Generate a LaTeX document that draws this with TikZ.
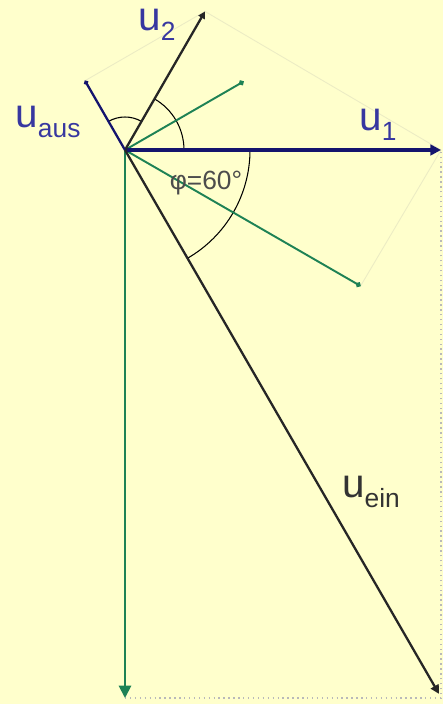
\documentclass[tikz,border=0pt]{standalone}
\usepackage{fontspec}
\setmainfont{Liberation Sans}
\definecolor{phasorBg}{RGB}{255,255,204}
\definecolor{phasorNavy}{RGB}{20,20,110}
\definecolor{phasorGreen}{RGB}{30,130,85}
\definecolor{phasorLabel}{RGB}{55,55,160}
\definecolor{phasorFaint}{RGB}{236,236,196}
\usetikzlibrary{arrows.meta, positioning, calc}
\newcommand{\idx}[1]{\raisebox{-0.25em}{\fontsize{15}{15}\selectfont #1}}

\begin{document}
\begin{tikzpicture}[x=0.02cm, y=0.02cm, every node/.style={font=\fontsize{23}{23}\selectfont}]
        \fill[phasorBg] (0,0) rectangle (443,704);
        \useasboundingbox (0,0) rectangle (443,704);

        % Zeiger
        \coordinate (O) at (125,554);
        \coordinate (u1) at (441,554);
        \coordinate (u2) at ($(O)+(60:160)$);
        \coordinate (uaus) at ($(O)+(120:80)$);
        \coordinate (uein) at ($(O)+(-60:628)$);
        \coordinate (g1) at ($(O)+(30:137)$);
        \coordinate (g2) at ($(O)+(-30:272)$);
        \coordinate (g3) at (125,6);
        \coordinate (corner) at (441,6);

        % Hilfslinien
        \draw[phasorFaint, line width=0.5pt] (uaus) -- (u2) -- (u1) -- (g2);
        \draw[gray!55, dotted, line width=0.8pt] (g3) -- (corner) -- (u1);

        % Winkelboegen
        \draw[line width=0.6pt] ($(O)+(0:125)$) arc[start angle=0, end angle=-60, radius=125];
        \draw[line width=0.6pt] ($(O)+(0:59)$) arc[start angle=0, end angle=60, radius=59];
        \draw[line width=0.6pt] ($(O)+(60:33)$) arc[start angle=60, end angle=120, radius=33];

        \draw[phasorGreen, line width=1.1pt, -{Circle[length=3pt]}] (O) -- (g1);
        \draw[phasorGreen, line width=1.1pt, -{Circle[length=3pt]}] (O) -- (g2);
        \draw[phasorGreen, line width=1.1pt, -{Triangle[length=7pt, width=7pt]}] (O) -- (g3);

        \draw[phasorNavy, line width=1.8pt, -{Triangle[length=6pt, width=6pt]}] (O) -- (u1);
        \draw[black!85, line width=1.3pt, -{Triangle[length=4pt, width=4pt]}] (O) -- (u2);
        \draw[phasorNavy, line width=1.3pt, -{Circle[length=2.5pt]}] (O) -- (uaus);
        \draw[black!85, line width=1.3pt, -{Triangle[length=5pt, width=5pt]}] (O) -- (uein);

        % Beschriftung
        \node[phasorLabel] (l1) at (378,579) {u\idx{1}};
        \node[phasorLabel] (l2) at (157,679) {u\idx{2}};
        \node[phasorLabel] (laus) at (48,582) {u\idx{aus}};
        \node[black!80] (lein) at (371,212) {u\idx{ein}};
        \node[black!70, font=\fontsize{15}{15}\selectfont] (phi) at (206,521) {φ=60°};
      \end{tikzpicture}
\end{document}
